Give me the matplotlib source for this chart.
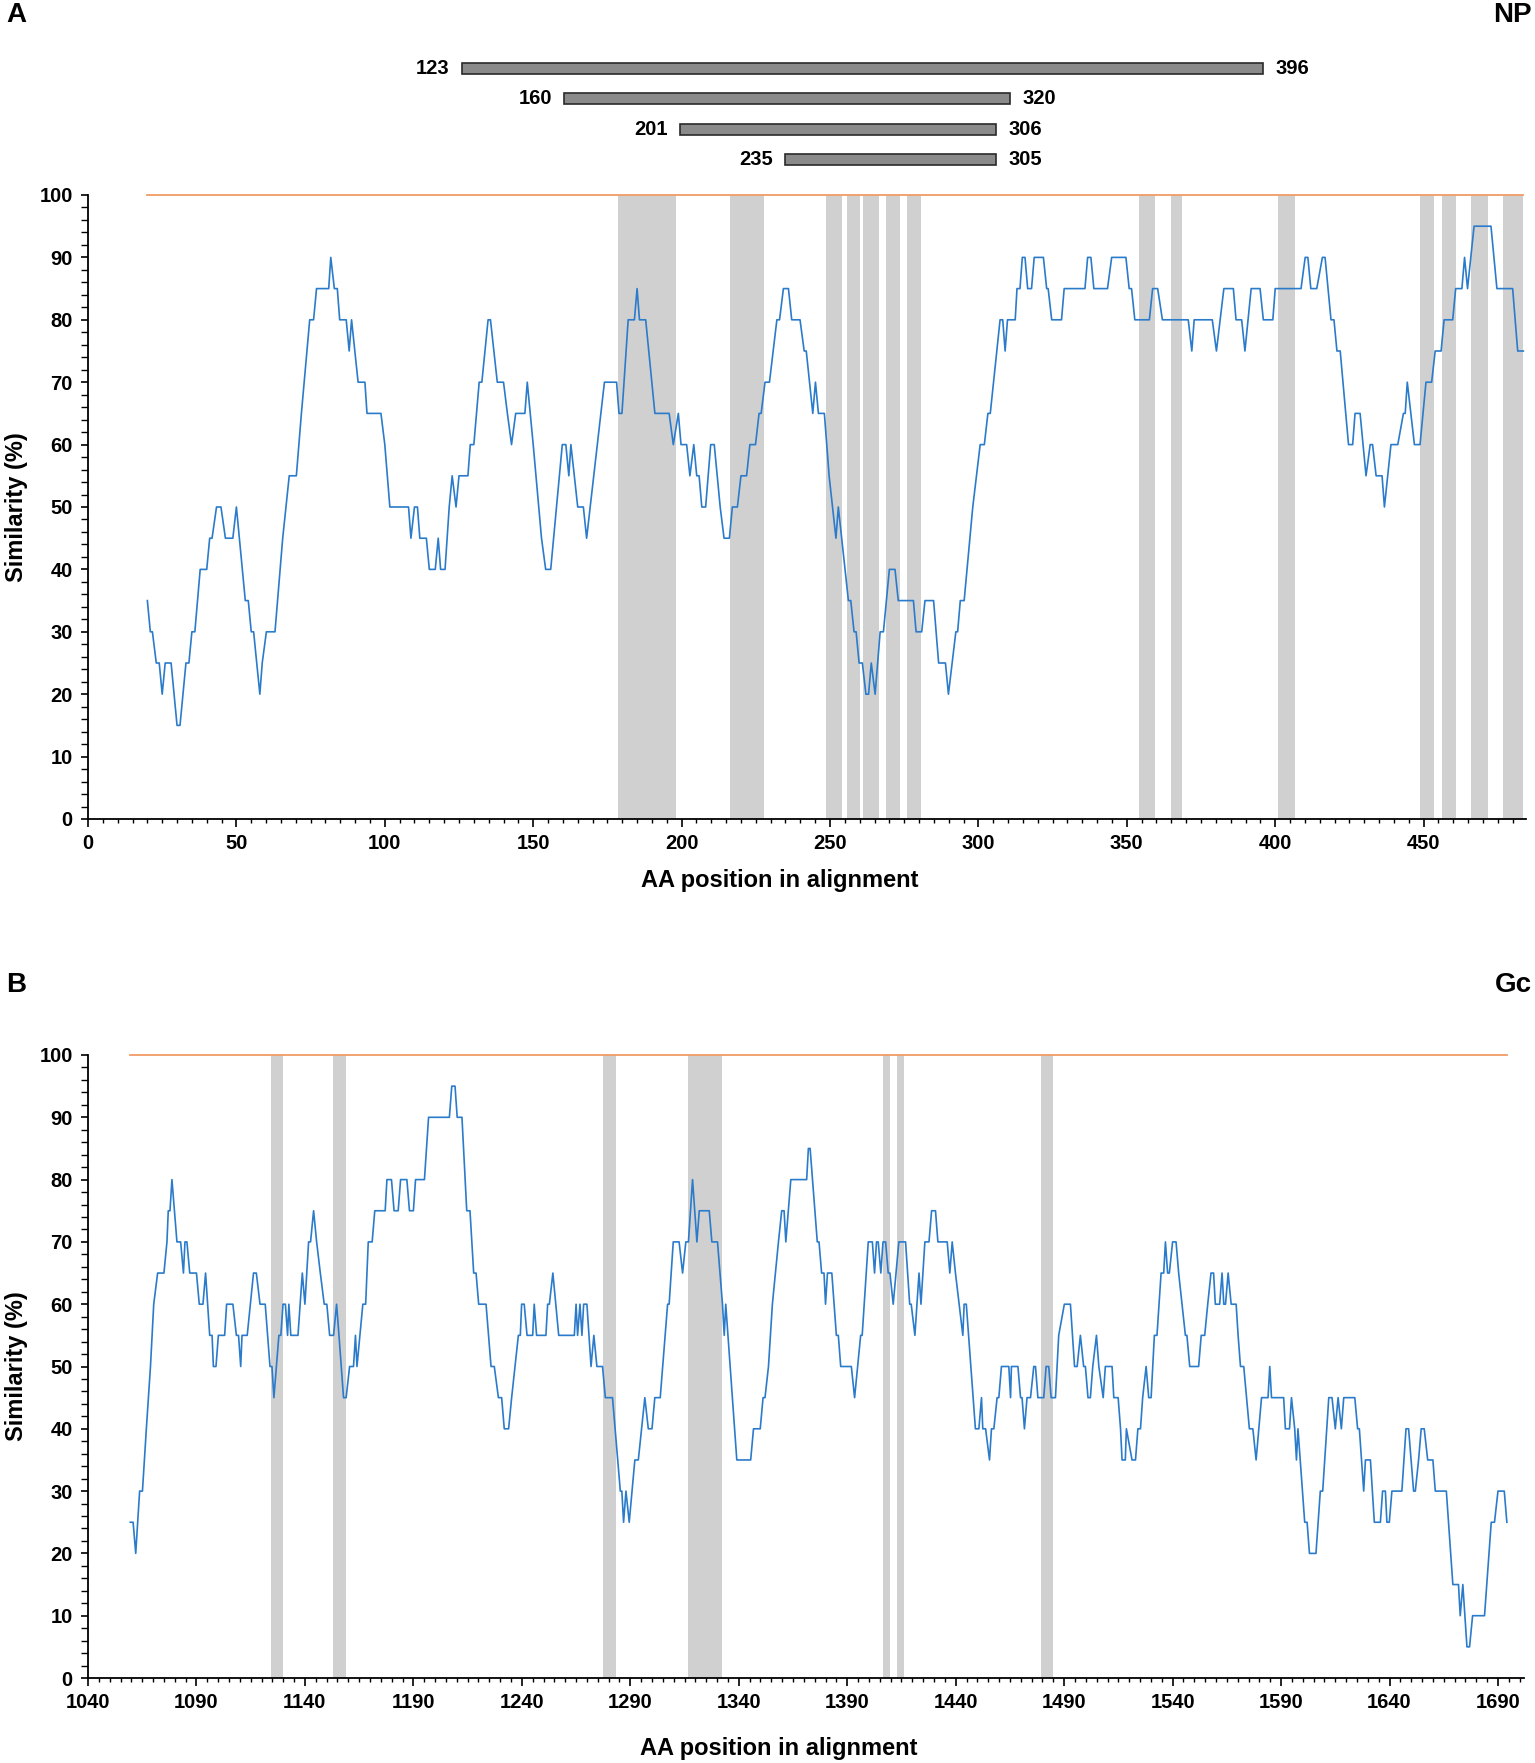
import matplotlib
matplotlib.use('Agg')
import matplotlib.pyplot as plt
from matplotlib.ticker import MultipleLocator, FixedLocator
import numpy as np

plt.rcParams['font.family'] = ['Liberation Sans', 'DejaVu Sans']
plt.rcParams['font.weight'] = 'bold'

# ---- panel A (NP) similarity trace, vertices ----
np_pos = [20, 21, 21.7, 23, 24, 25, 26, 28, 30, 31, 33, 34, 35, 36, 37.8, 40, 41, 41.8, 43.3, 44.8,
          46.3, 48.8, 50, 53, 54, 55, 55.8, 57.9, 58.7, 60.1, 63, 65.6, 67.8, 70.2, 71.9, 74.7, 76, 77, 81.1, 81.8,
          83, 84, 84.8, 87, 88, 88.8, 91, 93.3, 94, 98.7, 100, 101.7, 108, 108.8, 110, 111, 111.8, 114, 115, 117,
          118, 118.8, 120.3, 121.7, 122.7, 124, 125, 128, 128.8, 130, 131.8, 132.7, 134.8, 135.6, 137.9, 140,
          141.3, 142.7, 144.1, 147.2, 148, 150, 152.8, 154.2, 155.9, 159.8, 161, 162, 162.7, 165, 166.9, 168,
          174, 178.1, 178.9, 179.9, 182, 184.1, 185, 185.8, 187.9, 191, 195.8, 197.2, 198.9, 199.8, 201.7,
          202.8, 204.1, 205.1, 205.9, 206.8, 208.1, 209.8, 211, 213, 214.3, 216.1, 217.1, 218.8, 220, 221.9,
          223, 224.9, 226.1, 226.8, 228.1, 229.6, 232.1, 233, 234.3, 236, 237.1, 239.9, 241.3, 242, 244.2,
          245.1, 246.1, 248.1, 249.7, 252, 252.8, 256.2, 257, 258.1, 258.8, 259.8, 260.9, 262.1, 263, 263.9,
          265.2, 266.9, 268, 270, 271.9, 273, 278.1, 279, 280.9, 282, 284.9, 286.6, 288.9, 289.9, 292.4, 293,
          293.9, 295.2, 298.1, 300.6, 302, 303.2, 304, 306.2, 307.3, 308.2, 309, 309.8, 312.4, 313, 314, 314.8,
          315.7, 316.6, 317.9, 318.8, 321.9, 323, 323.5, 324.7, 328, 328.9, 335.9, 336.8, 337.9, 338.9, 343.5,
          344.9, 349.7, 350.8, 351.6, 352.7, 357.6, 358.7, 360.4, 362, 370.7, 371.9, 372.7, 378.8, 380.2,
          382.7, 385.9, 386.8, 388.7, 389.8, 391.9, 394.9, 396, 399.2, 400, 408.7, 410.1, 411, 412, 414, 415.9,
          416.8, 418.8, 419.8, 420.8, 421.9, 424.7, 426.1, 426.9, 428.6, 430.6, 432, 432.8, 434, 436, 436.8,
          439, 441.3, 443.2, 443.8, 444.5, 446.9, 448.8, 450.8, 452.7, 453.9, 455.9, 456.9, 459.8, 460.8,
          462.9, 463.8, 464.8, 467, 472.7, 474.7, 480, 481.7, 483.6]
np_sim = [35, 30, 30, 25, 25, 20, 25, 25, 15, 15, 25, 25, 30, 30, 40, 40, 45, 45, 50, 50,
          45, 45, 50, 35, 35, 30, 30, 20, 25, 30, 30, 45, 55, 55, 65, 80, 80, 85, 85, 90,
          85, 85, 80, 80, 75, 80, 70, 70, 65, 65, 60, 50, 50, 45, 50, 50, 45, 45, 40, 40,
          45, 40, 40, 50, 55, 50, 55, 55, 60, 60, 70, 70, 80, 80, 70, 70,
          65, 60, 65, 65, 70, 60, 45, 40, 40, 60, 60, 55, 60, 50, 50, 45,
          70, 70, 65, 65, 80, 80, 85, 80, 80, 65, 65, 60, 65, 60, 60,
          55, 60, 55, 55, 50, 50, 60, 60, 50, 45, 45, 50, 50, 55, 55,
          60, 60, 65, 65, 70, 70, 80, 80, 85, 85, 80, 80, 75, 75, 65,
          70, 65, 65, 55, 45, 50, 35, 35, 30, 30, 25, 25, 20, 20, 25,
          20, 30, 30, 40, 40, 35, 35, 30, 30, 35, 35, 25, 25, 20, 30, 30,
          35, 35, 50, 60, 60, 65, 65, 75, 80, 80, 75, 80, 80, 85, 85, 90,
          90, 85, 85, 90, 90, 85, 85, 80, 80, 85, 85, 90, 90, 85, 85,
          90, 90, 85, 85, 80, 80, 85, 85, 80, 80, 75, 80, 80, 75,
          85, 85, 80, 80, 75, 85, 85, 80, 80, 85, 85, 90, 90, 85, 85, 90,
          90, 80, 80, 75, 75, 60, 60, 65, 65, 55, 60, 60, 55, 55, 50,
          60, 60, 65, 65, 70, 60, 60, 70, 70, 75, 75, 80, 80, 85,
          85, 90, 85, 95, 95, 85, 85, 75, 75]

# conserved / shaded stretches in panel A (alignment positions)
np_shade_start = [178.5, 216.3, 248.8, 255.8, 261.1, 268.8, 275.9, 354.2, 365.0, 401.1, 448.9, 456.3, 466.0, 476.9]
np_shade_end = [198.2, 227.8, 253.9, 260.2, 266.6, 273.5, 280.8, 359.6, 368.7, 406.6, 453.6, 461.0, 471.8, 483.6]

# epitope bars above panel A
bar_start = [126, 160.5, 199.5, 235]
bar_end = [396, 310.5, 306, 306]
bar_left_lbl = ['123', '160', '201', '235']
bar_right_lbl = ['396', '320', '306', '305']

# ---- panel B (Gc) ----
gc_pos = [1059.5, 1060.8, 1062, 1063.8, 1065.1, 1066.9, 1068.8, 1070.3, 1072.1, 1075, 1076.4, 1077, 1077.8,
          1078.7, 1081, 1082.7, 1084, 1084.7, 1085.6, 1086.9, 1090, 1091.3, 1093, 1094.2, 1096.1, 1097.2,
          1097.8, 1099, 1100.1, 1103, 1103.9, 1106.8, 1108.4, 1109.4, 1110.4, 1111, 1113.4, 1116.3, 1117.6,
          1119.3, 1121.7, 1123.9, 1124.8, 1125.7, 1128, 1128.9, 1129.9, 1131, 1132, 1132.6, 1133.5, 1136.8,
          1138.8, 1140, 1141.7, 1142.6, 1144, 1145.4, 1147.1, 1148.9, 1150.1, 1151.4, 1153.2, 1154.6, 1155.7,
          1157.8, 1159, 1160.6, 1162.4, 1163.3, 1164, 1166.7, 1168, 1169.2, 1171, 1172.2, 1177, 1177.8, 1179.9,
          1181.1, 1183, 1184.1, 1187, 1188.2, 1190, 1191, 1195.1, 1197, 1206.6, 1207.7, 1209.2, 1210.2, 1212.4,
          1214.6, 1216.1, 1217.8, 1218.9, 1220.1, 1223.5, 1225.8, 1227.3, 1229.2, 1230.7, 1231.9, 1233.9,
          1235.3, 1238.4, 1239.3, 1239.9, 1241.1, 1242.4, 1245, 1245.7, 1246.8, 1251.1, 1251.9, 1252.7, 1254.3,
          1257, 1264.2, 1265, 1265.7, 1266.8, 1267.7, 1268.5, 1270, 1271.9, 1273.2, 1274.6, 1277.2, 1278.5,
          1281.8, 1285.4, 1286.1, 1286.9, 1288, 1289.5, 1292.1, 1293.7, 1295.2, 1296.7, 1298.3, 1300, 1301.3,
          1303.8, 1307.2, 1307.9, 1309.8, 1312.5, 1314.1, 1315.6, 1316.8, 1318.7, 1320.7, 1321.8, 1326.4,
          1327.6, 1330.2, 1332.5, 1333.3, 1334, 1339.1, 1345.5, 1346.8, 1349.9, 1351.2, 1352.1, 1353.7, 1355.5,
          1358.3, 1359.8, 1360.9, 1361.7, 1364, 1371.3, 1372.1, 1372.9, 1376.2, 1377, 1378.2, 1379.3, 1380,
          1380.9, 1382.9, 1385, 1385.9, 1387, 1391.9, 1393.4, 1396.2, 1396.9, 1399.7, 1401.6, 1402.6, 1403.5,
          1404.3, 1405.5, 1406.5, 1407.7, 1408.9, 1409.7, 1411.2, 1413.8, 1416.9, 1418.8, 1419.5, 1421.2,
          1423.1, 1424, 1425.8, 1427.7, 1428.9, 1430.7, 1431.8, 1436.1, 1437.3, 1438.4, 1439.9, 1443.3, 1443.9,
          1444.9, 1449.1, 1450.7, 1451.9, 1452.5, 1453.8, 1455.6, 1456.5, 1457.6, 1459.1, 1459.9, 1461.1,
          1464.5, 1465.3, 1465.7, 1468.7, 1469.9, 1470.6, 1471.7, 1472.9, 1474.5, 1476, 1476.8, 1477.9, 1480.6,
          1481.7, 1482.9, 1484, 1486, 1487.5, 1490.1, 1492.9, 1494.8, 1496, 1497.5, 1499, 1499.8, 1501, 1502.1,
          1503.2, 1504.9, 1506, 1508, 1509, 1512.1, 1512.9, 1514.9, 1516, 1516.7, 1518.2, 1518.7, 1521.3,
          1522.9, 1524, 1525.2, 1526.2, 1527.8, 1529, 1530.1, 1531.6, 1532.8, 1534.7, 1535.9, 1536.7, 1537.7,
          1538.5, 1540, 1541.6, 1542.8, 1545.9, 1546.6, 1547.9, 1552, 1553.2, 1554.8, 1556.2, 1557.7, 1558.9,
          1559.7, 1561.7, 1562.8, 1563.6, 1564.4, 1565.6, 1567, 1569.3, 1570.2, 1571.3, 1572.8, 1575.4, 1577,
          1578.5, 1581, 1584, 1584.8, 1585.6, 1591.2, 1592, 1593.9, 1594.8, 1596.3, 1597.1, 1597.8, 1600.9,
          1602, 1603.1, 1606.1, 1607.1, 1608.1, 1609.2, 1612, 1613.5, 1615, 1616.3, 1617.8, 1618.9, 1624,
          1625.3, 1626.1, 1628.1, 1628.9, 1631.2, 1633, 1635.8, 1636.8, 1638.1, 1638.8, 1639.9, 1641.1, 1645.7,
          1647.6, 1648.8, 1651.1, 1651.9, 1653.4, 1654.6, 1656, 1657.6, 1660, 1661.1, 1666.2, 1669.2, 1671.8,
          1672.6, 1673.8, 1675.7, 1676.9, 1678.3, 1683.8, 1686.9, 1688.4, 1690, 1692.9, 1694.1]
gc_sim = [25, 25, 20, 30, 30, 40, 50, 60, 65, 65, 70, 75, 75,
          80, 70, 70, 65, 70, 70, 65, 65, 60, 60, 65, 55, 55,
          50, 50, 55, 55, 60, 60, 55, 55, 50, 55, 55, 65, 65,
          60, 60, 50, 50, 45, 55, 55, 60, 60, 55, 60, 55, 55,
          65, 60, 70, 70, 75, 70, 65, 60, 60, 55, 55, 60, 55,
          45, 45, 50, 50, 55, 50, 60, 60, 70, 70, 75, 75, 80, 80,
          75, 75, 80, 80, 75, 75, 80, 80, 90, 90, 95, 95, 90, 90,
          75, 75, 65, 65, 60, 60, 50, 50, 45, 45, 40, 40,
          45, 55, 55, 60, 60, 55, 55, 60, 55, 55, 60, 60, 65,
          55, 55, 60, 55, 60, 55, 60, 60, 50, 55, 50, 50, 45,
          45, 30, 30, 25, 30, 25, 35, 35, 40, 45, 40, 40, 45,
          45, 60, 60, 70, 70, 65, 70, 70, 80, 70, 75, 75,
          70, 70, 60, 55, 60, 35, 35, 40, 40, 45, 45, 50, 60,
          70, 75, 75, 70, 80, 80, 85, 85, 70, 70, 65, 65, 60,
          65, 65, 55, 55, 50, 50, 45, 55, 55, 70, 70, 65, 70,
          70, 65, 70, 70, 65, 65, 60, 70, 70, 60, 60, 55,
          65, 60, 70, 70, 75, 75, 70, 70, 65, 70, 65, 55, 60,
          60, 40, 40, 45, 40, 40, 35, 40, 40, 45, 45, 50,
          50, 45, 50, 50, 45, 45, 40, 45, 45, 50, 50, 45, 45,
          50, 50, 45, 45, 55, 60, 60, 50, 50, 55, 50, 50, 45, 45,
          50, 55, 50, 45, 50, 50, 45, 45, 40, 35, 35, 40, 35,
          35, 40, 40, 45, 50, 45, 45, 55, 55, 65, 65, 70, 65,
          65, 70, 70, 65, 55, 55, 50, 50, 55, 55, 60, 65, 65,
          60, 60, 65, 60, 60, 65, 60, 60, 55, 50, 50, 40, 40,
          35, 45, 45, 50, 45, 45, 40, 40, 45, 40, 35, 40, 25,
          25, 20, 20, 25, 30, 30, 45, 45, 40, 45, 40, 45, 45,
          40, 40, 30, 35, 35, 25, 25, 30, 30, 25, 25, 30, 30,
          40, 40, 30, 30, 35, 40, 40, 35, 35, 30, 30, 15, 15,
          10, 15, 5, 5, 10, 10, 25, 25, 30, 30, 25]

gc_shade_start = [1124.4, 1153.0, 1277.3, 1316.8, 1406.3, 1413.1, 1479.4]
gc_shade_end = [1130.0, 1159.1, 1283.4, 1332.2, 1409.6, 1416.4, 1484.9]

np_ticks = np.arange(0, 451, 50)
gc_ticks = np.arange(1040, 1691, 50)

BLUE = '#2b7bcb'
ORANGE = '#f19c65'
SHADE = '#d0d0d0'

W, H = 1535, 1763
def box(l, t, r, b):
    return [l / W, 1 - b / H, (r - l) / W, (b - t) / H]

fig = plt.figure(figsize=(W / 100, H / 100), dpi=100)
ax_a = fig.add_axes(box(88, 195, 1526, 819))
ax_bar = fig.add_axes(box(88, 50, 1526, 178))
ax_b = fig.add_axes(box(88, 1055, 1524, 1678))


def style(ax, xmin, xmax, ticks, xlab_pad):
    ax.set_xlim(xmin, xmax)
    ax.set_ylim(0, 100)
    ax.spines['top'].set_visible(False)
    ax.spines['right'].set_visible(False)
    for s in ('left', 'bottom'):
        ax.spines[s].set_linewidth(1.3)
    ax.xaxis.set_major_locator(FixedLocator(ticks))
    ax.xaxis.set_minor_locator(MultipleLocator(5))
    ax.yaxis.set_major_locator(MultipleLocator(10))
    ax.yaxis.set_minor_locator(MultipleLocator(2))
    ax.tick_params(axis='x', which='major', length=5.5, width=1.2, pad=5, labelsize=14.5)
    ax.tick_params(axis='x', which='minor', length=3, width=1.0)
    ax.tick_params(axis='y', which='major', length=5, width=1.2, pad=6, labelsize=14.5)
    ax.tick_params(axis='y', which='minor', length=5, width=1.0)
    for lbl in ax.get_xticklabels() + ax.get_yticklabels():
        lbl.set_fontweight('bold')
    ax.set_xlabel('AA position in alignment', fontsize=17, fontweight='bold',
                  labelpad=xlab_pad, x=0.481)
    ax.set_ylabel('Similarity (%)', fontsize=17, fontweight='bold', labelpad=8)


def draw_panel(ax, pos, sim, s0, s1):
    for a, b in zip(s0, s1):
        ax.axvspan(a, b, color=SHADE, lw=0, zorder=1)
    ax.plot([pos[0], pos[-1]], [100, 100], color=ORANGE, lw=1.3, zorder=2, clip_on=False)
    ax.plot(pos, sim, color=BLUE, lw=1.2, zorder=3)


draw_panel(ax_a, np_pos, np_sim, np_shade_start, np_shade_end)
style(ax_a, 0, 484.5, np_ticks, 12)

draw_panel(ax_b, gc_pos, gc_sim, gc_shade_start, gc_shade_end)
style(ax_b, 1040, 1702, gc_ticks, 18)

# epitope bars
rows = np.arange(len(bar_start))
ax_bar.barh(rows, np.array(bar_end) - np.array(bar_start), left=bar_start, height=0.36,
            color='#8a8a8a', edgecolor='#2a2a2a', linewidth=1.2)
for r, x0, x1, l0, l1 in zip(rows, bar_start, bar_end, bar_left_lbl, bar_right_lbl):
    ax_bar.annotate(l0, (x0, r), xytext=(-9, 0), textcoords='offset points',
                    ha='right', va='center', fontsize=14.5, fontweight='bold')
    ax_bar.annotate(l1, (x1, r), xytext=(9, 0), textcoords='offset points',
                    ha='left', va='center', fontsize=14.5, fontweight='bold')
ax_bar.set_xlim(0, 484.5)
ax_bar.set_ylim(3.6, -0.6)
ax_bar.axis('off')

fig.text(0.004, 0.999, 'A', fontsize=20, fontweight='bold', ha='left', va='top')
fig.text(0.998, 0.999, 'NP', fontsize=20, fontweight='bold', ha='right', va='top')
fig.text(0.004, 1 - 972 / H, 'B', fontsize=20, fontweight='bold', ha='left', va='top')
fig.text(0.998, 1 - 972 / H, 'Gc', fontsize=20, fontweight='bold', ha='right', va='top')

fig.savefig('out.png', dpi=100)
